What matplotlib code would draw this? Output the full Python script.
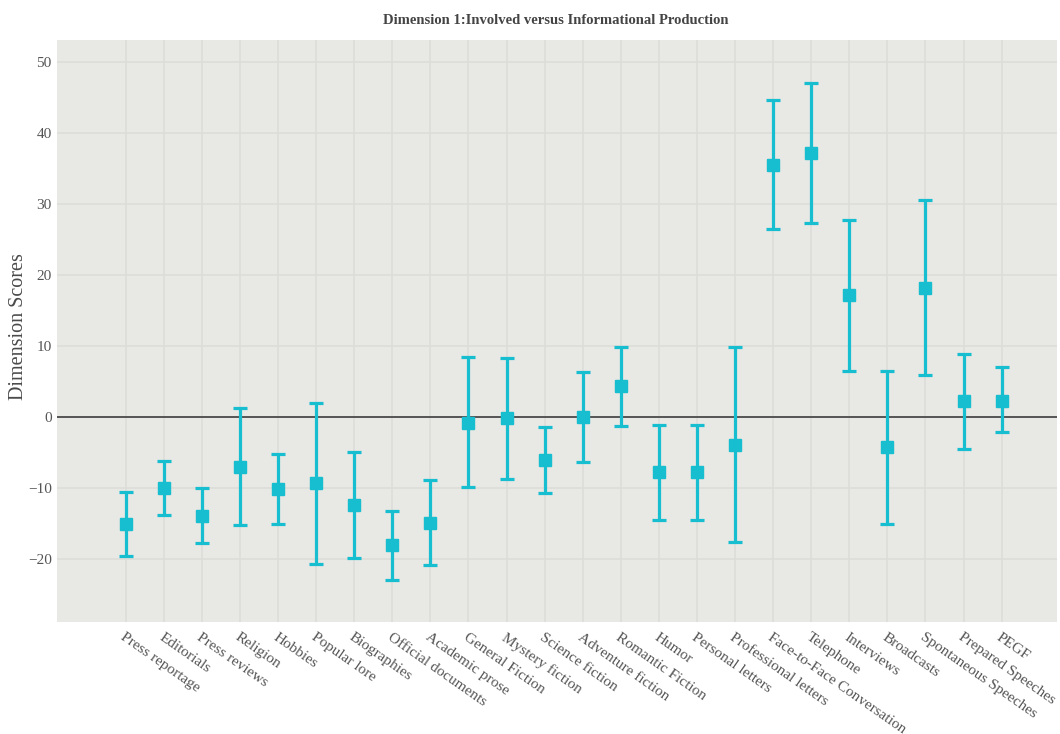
import numpy as np
import matplotlib
matplotlib.use('Agg')
import matplotlib.pyplot as plt

plt.rcParams['font.family'] = ['Liberation Serif', 'DejaVu Serif']
plt.rcParams['axes.unicode_minus'] = True

# 语域类别
registers = ['Press reportage', 'Editorials', 'Press reviews', 'Religion', 'Hobbies',
             'Popular lore', 'Biographies', 'Official documents', 'Academic prose',
             'General Fiction', 'Mystery fiction', 'Science fiction', 'Adventure fiction',
             'Romantic Fiction', 'Humor', 'Personal letters', 'Professional letters',
             'Face-to-Face Conversation', 'Telephone', 'Interviews', 'Broadcasts',
             'Spontaneous Speeches', 'Prepared Speeches', 'PEGF']

# 平均值 / 下限 / 上限
mean_scores = [-15.1, -10.0, -13.9, -7.0, -10.1, -9.3, -12.4, -18.1, -14.9,
               -0.8, -0.2, -6.1, 0.0, 4.3, -7.8, -7.8, -3.9,
               35.5, 37.2, 17.1, -4.3, 18.2, 2.2, 2.3]
lower_scores = [-19.6, -13.8, -17.8, -15.3, -15.1, -20.7, -19.9, -23.0, -20.9,
                -9.9, -8.7, -10.7, -6.3, -1.3, -14.5, -14.5, -17.6,
                26.4, 27.3, 6.4, -15.1, 5.9, -4.5, -2.2]
upper_scores = [-10.6, -6.2, -10.0, 1.3, -5.2, 2.0, -5.0, -13.3, -8.9,
                8.4, 8.3, -1.5, 6.3, 9.9, -1.1, -1.1, 9.8,
                44.6, 47.0, 27.8, 6.4, 30.5, 8.9, 7.0]

mean = np.array(mean_scores)
yerr = [mean - np.array(lower_scores), np.array(upper_scores) - mean]
x = np.arange(len(registers))

fig = plt.figure(figsize=(10.6, 7.34), dpi=100)
ax = fig.add_axes([0.054, 0.1526, 0.943, 0.793])
ax.set_facecolor('#e8e8e4')

ax.errorbar(x, mean, yerr=yerr, fmt='s', color='#17becf', ecolor='#17becf',
            markersize=9, elinewidth=2.3, capsize=5, capthick=2.3, zorder=3)

ax.axhline(0, color='#4a4a4a', linewidth=1.3, zorder=2)

ax.set_xlim(-1.8, 24.45)
ax.set_ylim(-28.9, 53.1)
ax.set_yticks(np.arange(-20, 51, 10))
ax.set_xticks(x)
ax.set_xticklabels(registers, rotation=-35, ha='left', va='top',
                   rotation_mode='anchor', fontsize=11, color='#555555')
ax.tick_params(axis='y', labelsize=11, labelcolor='#555555', length=0, pad=4)
ax.tick_params(axis='x', length=0, pad=6)

ax.grid(True, color='#dcdcd8', linewidth=1.1, zorder=0)
ax.set_axisbelow(True)
for sp in ax.spines.values():
    sp.set_visible(False)

# 纵轴标题
fig.text(0.017, 0.555, 'Dimension Scores', rotation=90, ha='center', va='center',
         fontsize=14.5, color='#4a4a4a')
fig.text(0.524, 0.972, 'Dimension 1:Involved versus Informational Production',
         ha='center', va='center', fontsize=10.5, fontweight='bold', color='#444444')

fig.savefig('out.png', dpi=100)
